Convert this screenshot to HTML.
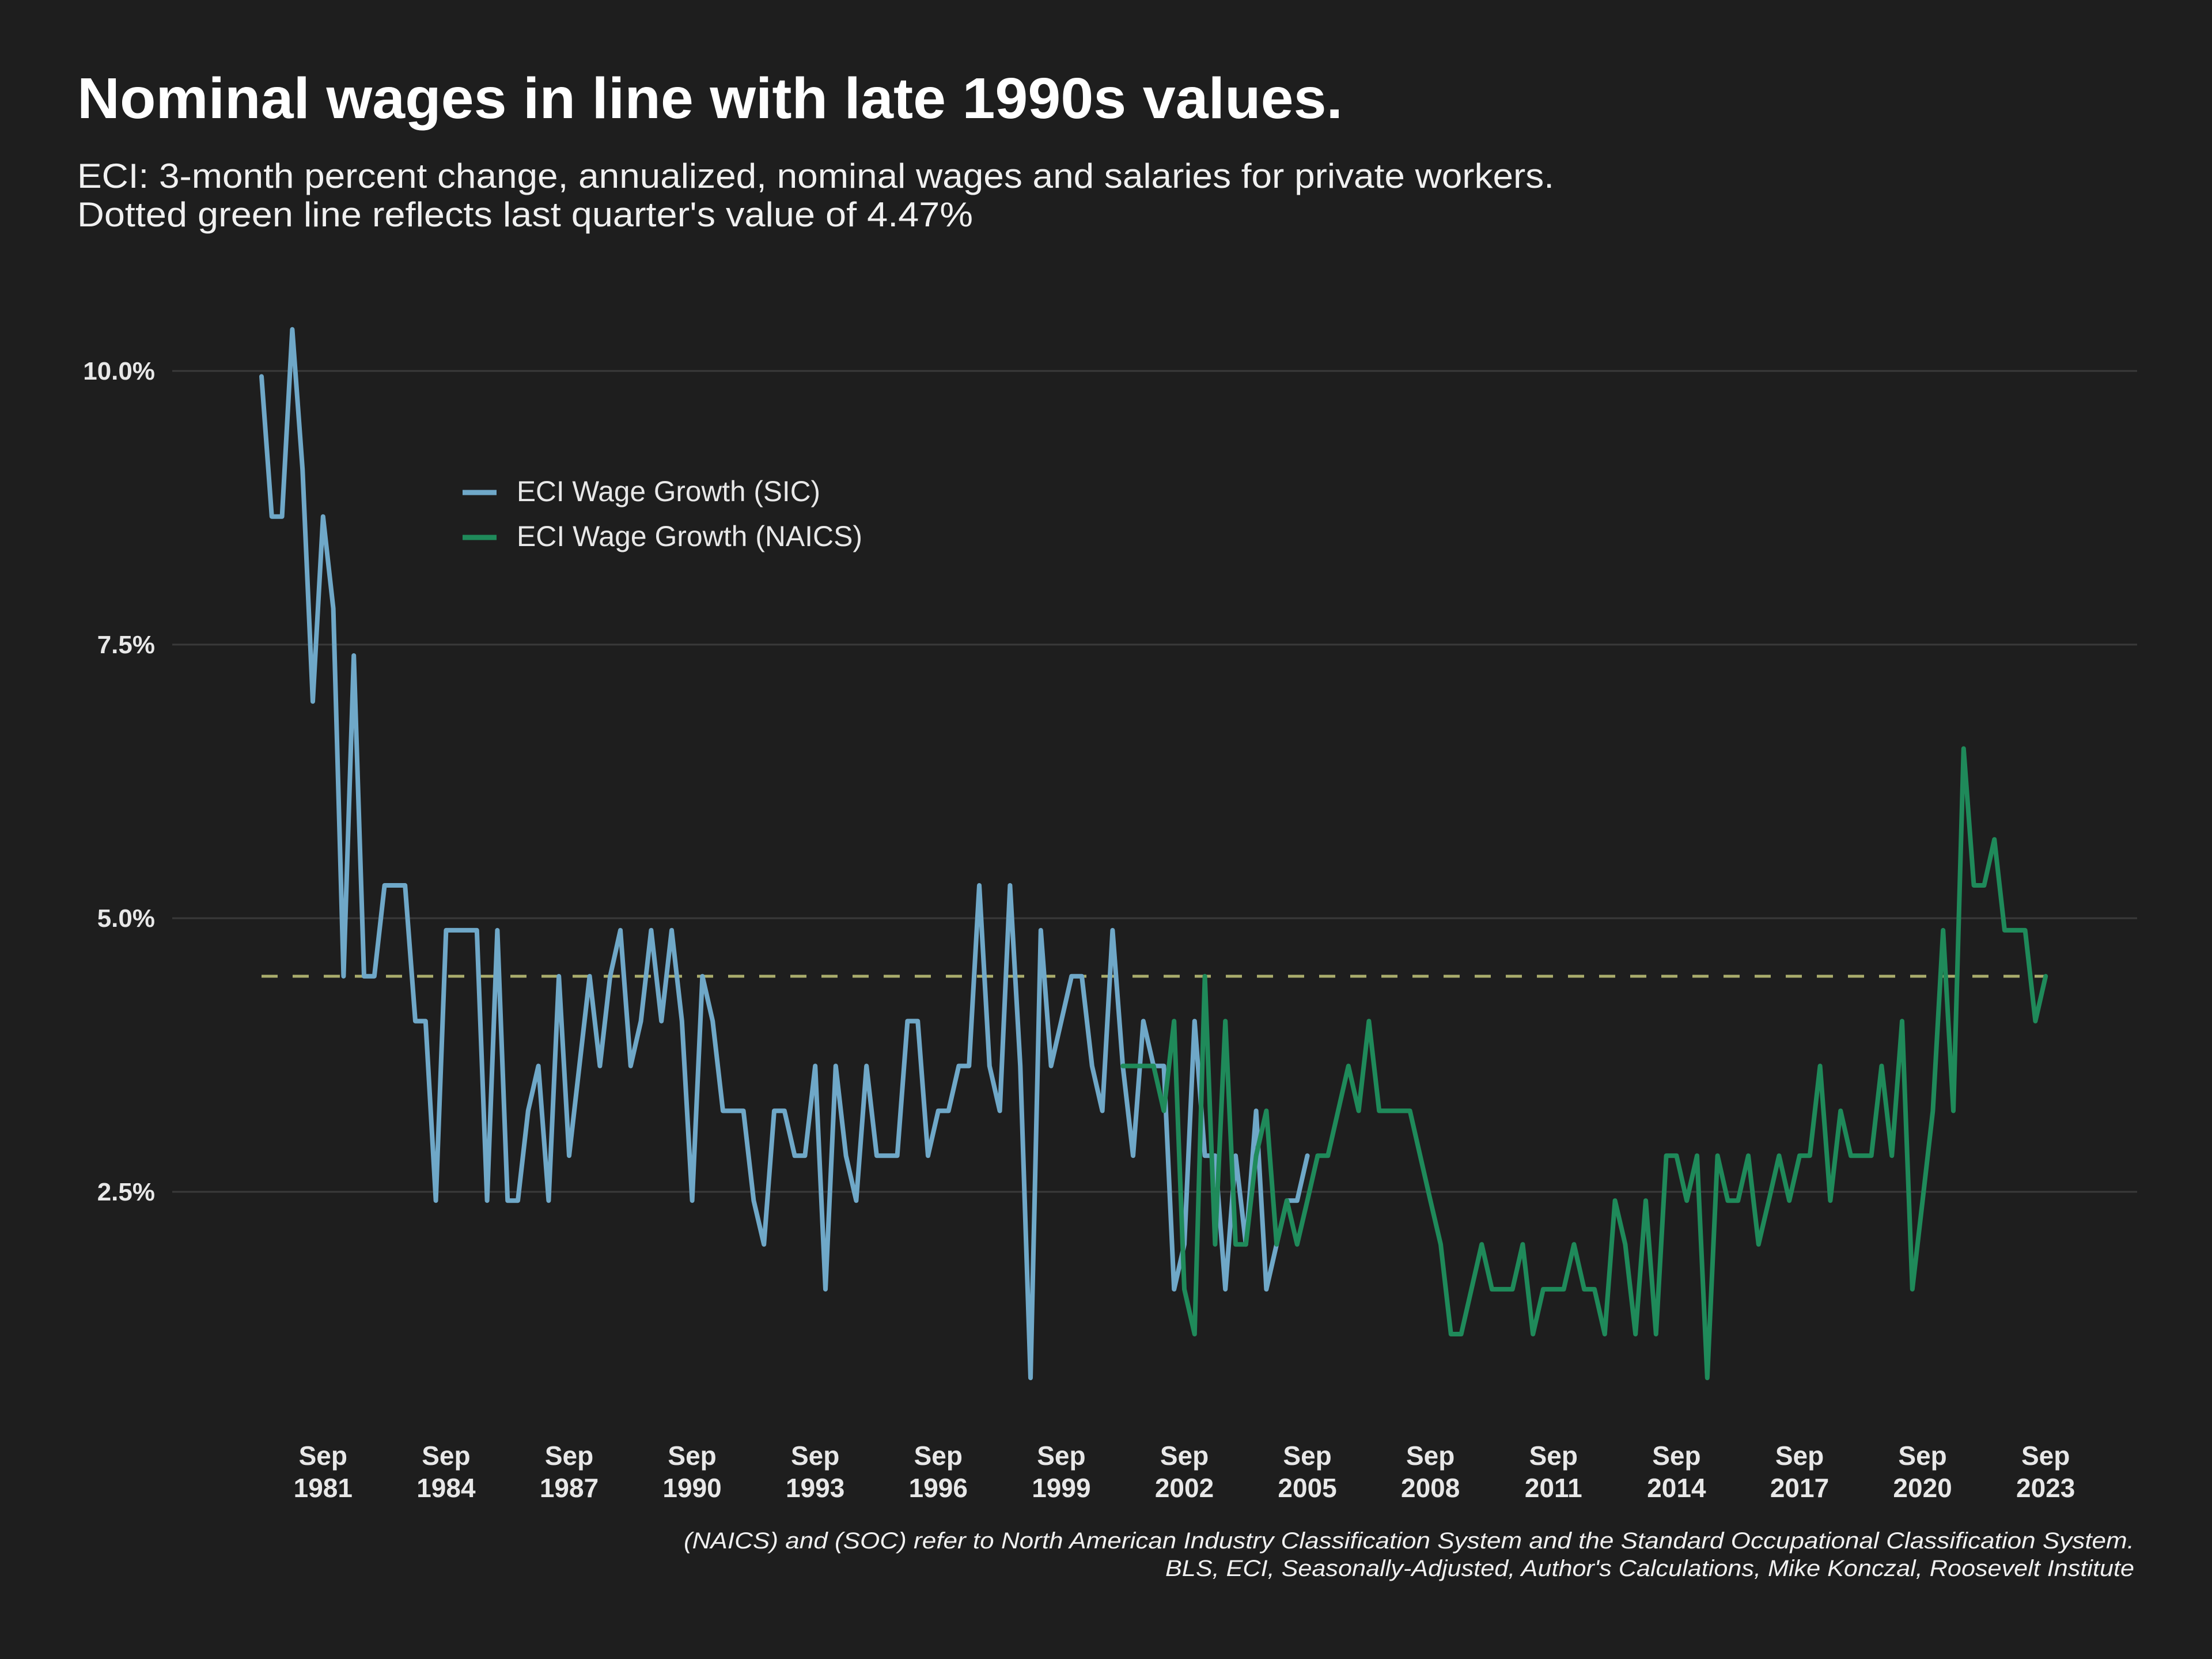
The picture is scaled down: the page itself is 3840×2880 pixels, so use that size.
<!DOCTYPE html>
<html><head><meta charset="utf-8">
<style>
html,body{margin:0;padding:0;background:#1e1e1e;}
svg{display:block;font-family:"Liberation Sans",sans-serif;}
</style></head>
<body>
<svg id="chart" width="3840" height="2880" viewBox="0 0 3840 2880" xmlns="http://www.w3.org/2000/svg">
<rect width="3840" height="2880" fill="#1e1e1e"/>
<text x="134" y="205" font-size="100" font-weight="bold" fill="#ffffff" textLength="2197" lengthAdjust="spacingAndGlyphs">Nominal wages in line with late 1990s values.</text>
<text x="134" y="326" font-size="60" fill="#f0f0f0" textLength="2564" lengthAdjust="spacingAndGlyphs">ECI: 3-month percent change, annualized, nominal wages and salaries for private workers.</text>
<text x="134" y="393" font-size="60" fill="#f0f0f0" textLength="1555" lengthAdjust="spacingAndGlyphs">Dotted green line reflects last quarter's value of 4.47%</text>
<g id="grid"></g>
<g id="yaxis"></g>
<g id="xaxis"></g>
<g id="series"></g>
<g>
<g>
<line x1="803" y1="855" x2="862" y2="855" stroke="#6fa8c8" stroke-width="9"/>
<text x="897" y="870" font-size="50" fill="#e8e8e8" textLength="527" lengthAdjust="spacingAndGlyphs">ECI Wage Growth (SIC)</text>
</g>
<g>
<line x1="803" y1="933" x2="862" y2="933" stroke="#1f8a5a" stroke-width="9"/>
<text x="897" y="948" font-size="50" fill="#e8e8e8" textLength="600" lengthAdjust="spacingAndGlyphs">ECI Wage Growth (NAICS)</text>
</g>
</g>
<text x="3705" y="2688" font-size="40" font-style="italic" fill="#f0f0f0" text-anchor="end" textLength="2518" lengthAdjust="spacingAndGlyphs">(NAICS) and (SOC) refer to North American Industry Classification System and the Standard Occupational Classification System.</text>
<text x="3705" y="2736" font-size="40" font-style="italic" fill="#f0f0f0" text-anchor="end" textLength="1682" lengthAdjust="spacingAndGlyphs">BLS, ECI, Seasonally-Adjusted, Author's Calculations, Mike Konczal, Roosevelt Institute</text>
</svg>
<script>
// quarter index 0 = Mar 1980
const sicStart = 0;
const sicValues = [9.95,8.67,8.67,10.38,9.1,6.98,8.67,7.83,4.47,7.4,4.47,4.47,5.3,5.3,5.3,4.06,4.06,2.42,4.89,4.89,4.89,4.89,2.42,4.89,2.42,2.42,3.24,3.65,2.42,4.47,2.83,3.65,4.47,3.65,4.47,4.89,3.65,4.06,4.89,4.06,4.89,4.06,2.42,4.47,4.06,3.24,3.24,3.24,2.42,2.02,3.24,3.24,2.83,2.83,3.65,1.61,3.65,2.83,2.42,3.65,2.83,2.83,2.83,4.06,4.06,2.83,3.24,3.24,3.65,3.65,5.3,3.65,3.24,5.3,3.65,0.8,4.89,3.65,4.06,4.47,4.47,3.65,3.24,4.89,3.65,2.83,4.06,3.65,3.65,1.61,2.02,4.06,2.83,2.83,1.61,2.83,2.02,3.24,1.61,2.02,2.42,2.42,2.83];
const naicsStart = 84;
const naicsValues = [3.65,3.65,3.65,3.65,3.24,4.06,1.61,1.2,4.47,2.02,4.06,2.02,2.02,2.83,3.24,2.02,2.42,2.02,2.42,2.83,2.83,3.24,3.65,3.24,4.06,3.24,3.24,3.24,3.24,2.83,2.42,2.02,1.2,1.2,1.61,2.02,1.61,1.61,1.61,2.02,1.2,1.61,1.61,1.61,2.02,1.61,1.61,1.2,2.42,2.02,1.2,2.42,1.2,2.83,2.83,2.42,2.83,0.8,2.83,2.42,2.42,2.83,2.02,2.42,2.83,2.42,2.83,2.83,3.65,2.42,3.24,2.83,2.83,2.83,3.65,2.83,4.06,1.61,2.42,3.24,4.89,3.24,6.55,5.3,5.3,5.72,4.89,4.89,4.89,4.06,4.47];
const lastValue = 4.47;
const yTicks = [2.5,5.0,7.5,10.0];
const yTickLabels = ["2.5%","5.0%","7.5%","10.0%"];
const xTickYears = [1981,1984,1987,1990,1993,1996,1999,2002,2005,2008,2011,2014,2017,2020,2023];

const NS = "http://www.w3.org/2000/svg";
function xScale(q){ return 454 + q*17.8; }
function yScale(v){ return 2069 - (v-2.5)*190; }
function qOfSep(year){ return (year-1980)*4 + 2; }
function mk(tag, attrs, parent){ const e=document.createElementNS(NS,tag); for(const k in attrs) e.setAttribute(k,attrs[k]); parent.appendChild(e); return e; }

const grid=document.getElementById('grid'), yaxis=document.getElementById('yaxis'), xaxis=document.getElementById('xaxis'), series=document.getElementById('series');
yTicks.forEach((v,i)=>{
  const l=mk('line',{x1:299,x2:3710,y1:yScale(v),y2:yScale(v),stroke:'#3a3a3a','stroke-width':3},grid);
  
  
  const t=mk('text',{x:269,y:yScale(v)+15,'font-size':44,'font-weight':'bold',fill:'#e8e8e8','text-anchor':'end'},yaxis);
  t.textContent=yTickLabels[i];
  
  
});
xTickYears.forEach(yr=>{
  const x=xScale(qOfSep(yr));
  const g=mk('text',{x:x,y:2543,'font-size':46,'font-weight':'bold',fill:'#e8e8e8','text-anchor':'middle'},xaxis);
  
  
  const a=mk('tspan',{x:x,dy:0},g); a.textContent='Sep';
  const b=mk('tspan',{x:x,dy:56},g); b.textContent=String(yr);
});
const dash=mk('line',{x1:xScale(0),x2:xScale(naicsStart+naicsValues.length-1),y1:yScale(lastValue),y2:yScale(lastValue),stroke:'#a9ab6c','stroke-width':5,'stroke-dasharray':'28 26'},series);


function line(vals,start,color,name){
  const pts=vals.map((v,i)=>xScale(start+i).toFixed(1)+','+yScale(v).toFixed(1)).join(' ');
  const p=mk('polyline',{points:pts,fill:'none',stroke:color,'stroke-width':8,'stroke-linejoin':'round','stroke-linecap':'round'},series);
  
  
}
line(sicValues,sicStart,'#6fa8c8','sic-series-line');
line(naicsValues,naicsStart,'#1f8a5a','naics-series-line');
</script>
</body></html>
